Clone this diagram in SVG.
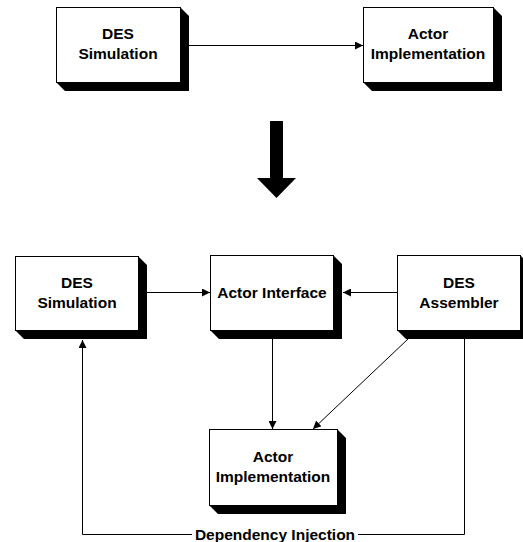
<svg xmlns="http://www.w3.org/2000/svg" width="523" height="542" viewBox="0 0 523 542">
<defs>
<style>
.box{fill:#fff;stroke:#000;stroke-width:1}
.sh{fill:#000}
.t{font-family:"Liberation Sans",Arial,sans-serif;font-weight:bold;font-size:15.5px;text-anchor:middle;fill:#000}
.c{fill:none;stroke:#000;stroke-width:1}
</style>
<marker id="ah" viewBox="0 0 10 10" refX="10" refY="5" markerWidth="8" markerHeight="8" markerUnits="userSpaceOnUse" orient="auto">
<path d="M0,0 L10,5 L0,10 Z" fill="#000"/>
</marker>
</defs>
<rect width="523" height="542" fill="#fff"/>
<g id="top-des-simulation">
<polygon class="sh" points="180,7 189,16 189,91 65,91 56,82 180,82"/>
<rect class="box" x="56.5" y="7.5" width="124" height="75"/>
<text class="t" x="118" y="39">DES</text>
<text class="t" x="118" y="59">Simulation</text>
</g>
<g id="top-actor-implementation">
<polygon class="sh" points="493,7 502,16 502,91 372,91 363,82 493,82"/>
<rect class="box" x="363.5" y="7.5" width="130" height="75"/>
<text class="t" x="428" y="39">Actor</text>
<text class="t" x="428" y="59">Implementation</text>
</g>
<g id="transform-arrow">
<polygon points="270,121 283,121 283,178 296,178 276.5,198 257,178 270,178" fill="#000"/>
</g>
<g id="des-simulation">
<polygon class="sh" points="138,256 147,265 147,339 24,339 15,330 138,330"/>
<rect class="box" x="15.5" y="256.5" width="123" height="74"/>
<text class="t" x="77" y="288">DES</text>
<text class="t" x="77" y="308">Simulation</text>
</g>
<g id="actor-interface">
<polygon class="sh" points="333,255 342,264 342,339 219,339 210,330 333,330"/>
<rect class="box" x="210.5" y="255.5" width="123" height="75"/>
<text class="t" x="272" y="298">Actor Interface</text>
</g>
<g id="des-assembler">
<polygon class="sh" points="520,255 529,264 529,339 406,339 397,330 520,330"/>
<rect class="box" x="397.5" y="255.5" width="123" height="75"/>
<text class="t" x="459" y="288">DES</text>
<text class="t" x="459" y="308">Assembler</text>
</g>
<g id="actor-implementation">
<polygon class="sh" points="337,429 346,438 346,514 218,514 209,505 337,505"/>
<rect class="box" x="209.5" y="429.5" width="128" height="76"/>
<text class="t" x="273" y="462">Actor</text>
<text class="t" x="273" y="482">Implementation</text>
</g>
<g id="connectors">
<line class="c" x1="189" y1="45.5" x2="363" y2="45.5" marker-end="url(#ah)"/>
<line class="c" x1="147" y1="292.5" x2="210" y2="292.5" marker-end="url(#ah)"/>
<line class="c" x1="397" y1="292.5" x2="343" y2="292.5" marker-end="url(#ah)"/>
<line class="c" x1="272.5" y1="339" x2="272.5" y2="429" marker-end="url(#ah)"/>
<line class="c" x1="408" y1="339" x2="313" y2="429" marker-end="url(#ah)"/>
<polyline class="c" points="464.5,339 464.5,534.5 358,534.5"/>
<polyline class="c" points="192,534.5 82.5,534.5 82.5,340" marker-end="url(#ah)"/>
<text class="t" x="275" y="540">Dependency Injection</text>
</g>
</svg>
